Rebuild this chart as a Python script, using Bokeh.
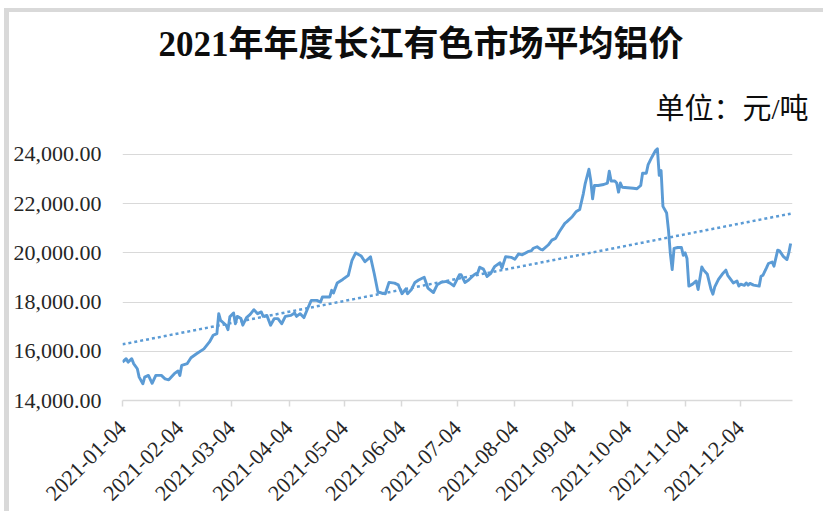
import numpy as np
import pandas as pd
from math import pi
from datetime import datetime
from bokeh.plotting import figure
from bokeh.models import (Range1d, FixedTicker, NumeralTickFormatter,
                          DatetimeTickFormatter, Title, ColumnDataSource)
from bokeh.embed import file_html
from bokeh.resources import INLINE

title_text = "2021年年度长江有色市场平均铝价"
unit_text = "单位：元/吨"

dates = [
    "2021-01-04", "2021-01-06", "2021-01-07", "2021-01-09", "2021-01-10", "2021-01-12",
    "2021-01-13", "2021-01-15", "2021-01-16", "2021-01-18", "2021-01-20", "2021-01-22",
    "2021-01-25", "2021-01-27", "2021-01-29", "2021-02-01", "2021-02-03", "2021-02-04",
    "2021-02-05", "2021-02-08", "2021-02-10", "2021-02-13", "2021-02-17", "2021-02-20",
    "2021-02-22", "2021-02-24", "2021-02-25", "2021-02-26", "2021-03-01", "2021-03-02",
    "2021-03-03", "2021-03-05", "2021-03-06", "2021-03-07", "2021-03-09", "2021-03-10",
    "2021-03-12", "2021-03-14", "2021-03-16", "2021-03-18", "2021-03-20", "2021-03-21",
    "2021-03-23", "2021-03-25", "2021-03-27", "2021-03-29", "2021-03-31", "2021-04-02",
    "2021-04-05", "2021-04-07", "2021-04-08", "2021-04-10", "2021-04-12", "2021-04-14",
    "2021-04-16", "2021-04-19", "2021-04-21", "2021-04-22", "2021-04-26", "2021-04-27",
    "2021-04-28", "2021-04-30", "2021-05-03", "2021-05-06", "2021-05-08", "2021-05-10",
    "2021-05-13", "2021-05-15", "2021-05-18", "2021-05-20", "2021-05-22", "2021-05-24",
    "2021-05-26", "2021-05-28", "2021-05-31", "2021-06-02", "2021-06-04", "2021-06-06",
    "2021-06-07", "2021-06-09", "2021-06-11", "2021-06-13", "2021-06-16", "2021-06-18",
    "2021-06-21", "2021-06-23", "2021-06-25", "2021-06-28", "2021-06-30", "2021-07-02",
    "2021-07-05", "2021-07-06", "2021-07-08", "2021-07-10", "2021-07-13", "2021-07-15",
    "2021-07-16", "2021-07-18", "2021-07-20", "2021-07-22", "2021-07-24", "2021-07-27",
    "2021-07-28", "2021-07-30", "2021-08-02", "2021-08-04", "2021-08-06", "2021-08-08",
    "2021-08-11", "2021-08-13", "2021-08-14", "2021-08-16", "2021-08-18", "2021-08-19",
    "2021-08-22", "2021-08-24", "2021-08-26", "2021-08-28", "2021-08-31", "2021-09-01",
    "2021-09-04", "2021-09-06", "2021-09-08", "2021-09-10", "2021-09-11", "2021-09-13",
    "2021-09-14", "2021-09-15", "2021-09-16", "2021-09-18", "2021-09-21", "2021-09-23",
    "2021-09-24", "2021-09-25", "2021-09-27", "2021-09-28", "2021-09-29", "2021-09-30",
    "2021-10-01", "2021-10-04", "2021-10-07", "2021-10-09", "2021-10-11", "2021-10-12",
    "2021-10-14", "2021-10-15", "2021-10-17", "2021-10-19", "2021-10-20", "2021-10-21",
    "2021-10-22", "2021-10-23", "2021-10-25", "2021-10-26", "2021-10-27", "2021-10-28",
    "2021-10-29", "2021-10-31", "2021-11-02", "2021-11-03", "2021-11-04", "2021-11-05",
    "2021-11-06", "2021-11-08", "2021-11-10", "2021-11-11", "2021-11-13", "2021-11-14",
    "2021-11-16", "2021-11-18", "2021-11-19", "2021-11-20", "2021-11-22", "2021-11-24",
    "2021-11-26", "2021-11-27", "2021-11-30", "2021-12-02", "2021-12-03", "2021-12-04",
    "2021-12-06", "2021-12-07", "2021-12-08", "2021-12-09", "2021-12-11", "2021-12-14",
    "2021-12-15", "2021-12-16", "2021-12-18", "2021-12-19", "2021-12-21", "2021-12-22",
    "2021-12-24", "2021-12-25", "2021-12-27", "2021-12-29", "2021-12-30", "2021-12-31",
]

prices = [
    15560, 15700, 15560, 15700, 15500, 15290,
    14950, 14680, 14950, 15020, 14700, 15020,
    15020, 14880, 14840, 15090, 15200, 15020,
    15430, 15500, 15740, 15900, 16100, 16380,
    16650, 16720, 17530, 17260, 17060, 16880,
    17400, 17560, 17120, 17420, 17330, 17060,
    17370, 17500, 17690, 17530, 17600, 17420,
    17460, 17060, 17330, 17330, 17120, 17420,
    17460, 17560, 17420, 17530, 17370, 17730,
    18070, 18070, 18000, 18210, 18210, 18480,
    18370, 18780, 18920, 19090, 19700, 20000,
    19870, 19640, 19840, 19160, 18410, 18370,
    18340, 18800, 18770, 18700, 18340, 18530,
    18340, 18500, 18800, 18900, 19010, 18570,
    18390, 18700, 18800, 18840, 18770, 18660,
    19110, 19110, 18800, 18900, 19110, 19200,
    19420, 19340, 19040, 19170, 19440, 19600,
    19380, 19850, 19820, 19740, 19960, 19920,
    20050, 20090, 20190, 20250, 20140, 20120,
    20320, 20520, 20590, 20860, 21200, 21260,
    21470, 21670, 21760, 22410, 22820, 23400,
    22940, 22200, 22740, 22740, 22780, 22840,
    23320, 22920, 22920, 22840, 22470, 22840,
    22670, 22650, 22630, 22610, 22740, 23240,
    23240, 23590, 23890, 24160, 24230, 23150,
    23350, 21890, 21620, 20920, 19970, 19320,
    20180, 20220, 20220, 19900, 20000, 19770,
    18650, 18730, 18860, 18510, 19430, 19300,
    19130, 18510, 18320, 18620, 18920, 19130,
    19300, 19090, 18780, 18860, 18650, 18730,
    18680, 18780, 18690, 18760, 18690, 18650,
    19050, 19090, 19400, 19570, 19630, 19460,
    20110, 20080, 19860, 19730, 20000, 20380,
]

x_tick_labels = ["2021-01-04", "2021-02-04", "2021-03-04", "2021-04-04",
                 "2021-05-04", "2021-06-04", "2021-07-04", "2021-08-04",
                 "2021-09-04", "2021-10-04", "2021-11-04", "2021-12-04"]
y_ticks = [14000, 16000, 18000, 20000, 22000, 24000]

LINE = "#5b9bd5"
GRID = "#d9d9d9"
SERIF = "'Liberation Serif', 'Noto Sans CJK SC'"

dt = pd.to_datetime(dates)
src = ColumnDataSource(dict(x=dt, y=prices))

# linear trend line (as the chart's linear trendline)
days = np.array((dt - dt[0]).days, dtype=float)
coef = np.polyfit(days, np.array(prices, dtype=float), 1)
trend_src = ColumnDataSource(dict(x=[dt[0], dt[-1]],
                                  y=list(np.polyval(coef, [days[0], days[-1]]))))

W, H = 823, 511
p = figure(width=W, height=H, x_axis_type="datetime",
           x_range=Range1d(datetime(2021, 1, 4), datetime(2022, 1, 1)),
           y_range=Range1d(14000, 24325),
           output_backend="svg", toolbar_location=None,
           min_border_left=122, min_border_right=W - 792,
           min_border_top=146, min_border_bottom=H - 400)
p.outline_line_color = None
p.background_fill_color = "white"
p.border_fill_color = None
# light grey chart-area border on the top and left edges
p.styles = {"box-shadow": "inset 4px 8px 0 0 #ffffff, inset 9px 12px 0 0 #d9d9d9",
            "background-color": "#ffffff"}

p.line("x", "y", source=trend_src, line_color=LINE, line_width=2.5,
       line_dash="3 3")
p.line("x", "y", source=src, line_color=LINE, line_width=2.9,
       line_join="round")

# grid
p.xgrid.visible = False
p.ygrid.ticker = FixedTicker(ticks=y_ticks)
p.ygrid.grid_line_color = GRID
p.ygrid.grid_line_width = 1.2

# y axis
yax = p.yaxis[0]
yax.ticker = FixedTicker(ticks=y_ticks)
yax.formatter = NumeralTickFormatter(format="0,0.00")
yax.axis_line_color = None
yax.major_tick_line_color = None
yax.minor_tick_line_color = None
yax.major_label_standoff = 15
yax.major_label_text_font = "Liberation Serif"
yax.major_label_text_font_size = "22px"
yax.major_label_text_color = "#262626"

# x axis
xtick_ms = [pd.Timestamp(s).value // 10**6 for s in x_tick_labels]
xax = p.xaxis[0]
xax.ticker = FixedTicker(ticks=xtick_ms)
fmt = "%Y-%m-%d"
xax.formatter = DatetimeTickFormatter(microseconds=fmt, milliseconds=fmt, seconds=fmt,
                                      minsec=fmt, minutes=fmt, hourmin=fmt, hours=fmt,
                                      days=fmt, months=fmt, years=fmt)
xax.major_label_orientation = pi / 4
xax.axis_line_color = GRID
xax.axis_line_width = 1.5
xax.major_tick_line_color = GRID
xax.major_tick_line_width = 1.5
xax.major_tick_in = 0
xax.major_tick_out = 6
xax.minor_tick_line_color = None
xax.major_label_standoff = 18
xax.major_label_text_font = "Liberation Serif"
xax.major_label_text_font_size = "22px"
xax.major_label_text_color = "#262626"

# title and unit (unit closest to the plot)
p.add_layout(Title(text=unit_text, align="right", offset=-16, standoff=44,
                   text_font=SERIF, text_font_size="29px", text_font_style="normal",
                   text_color="#0d0d0d"), "above")
p.add_layout(Title(text=title_text, align="left", offset=36, standoff=9,
                   text_font=SERIF, text_font_size="35px", text_font_style="bold",
                   text_color="#0d0d0d"), "above")

open("out.html", "w").write(file_html(p, INLINE))
